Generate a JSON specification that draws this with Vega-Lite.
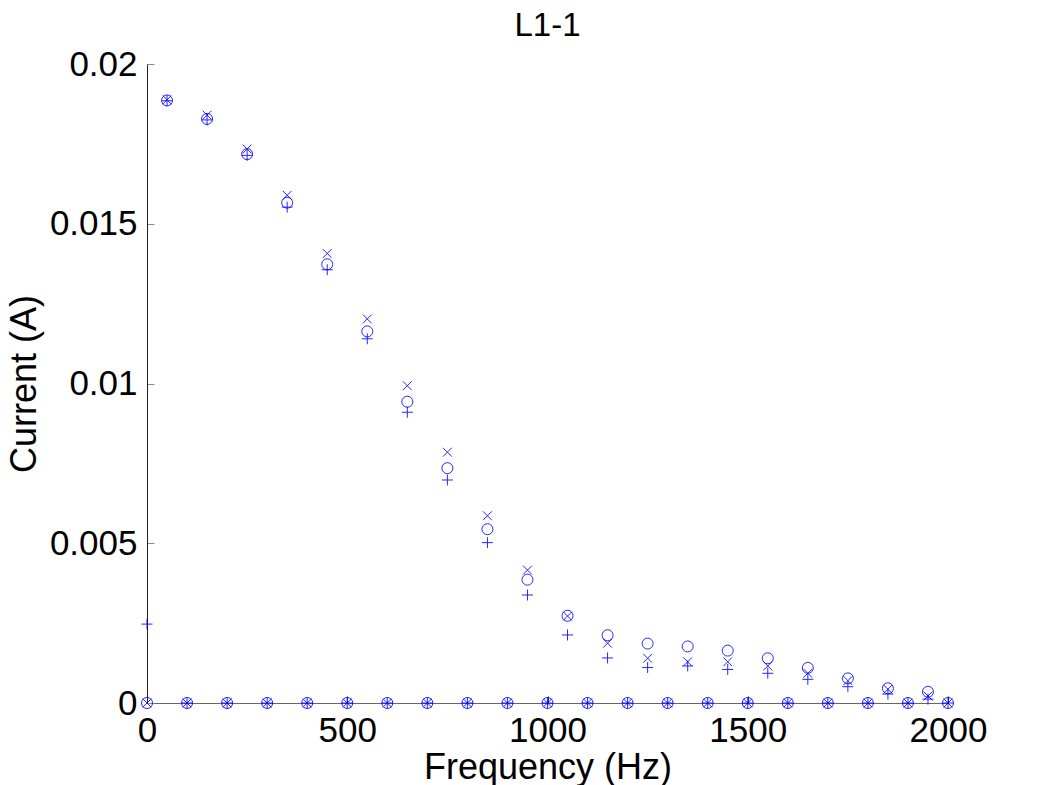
{
  "$schema": "https://vega.github.io/schema/vega-lite/v6.json",
  "width": 801,
  "height": 639,
  "autosize": {"type": "none"},
  "padding": {"left": 147, "top": 64, "right": 93, "bottom": 82},
  "background": "white",
  "title": {"text": "L1-1", "font": "Liberation Sans", "fontSize": 33, "fontWeight": "normal", "color": "black", "baseline": "alphabetic", "offset": -22},
  "config": {"view": {"stroke": null}},
  "data": {"values": [
    {"f":0,"s":"o","i":0},{"f":0,"s":"x","i":0},{"f":0,"s":"+","i":0.00247},
    {"f":100,"s":"o","i":0},{"f":100,"s":"x","i":0},{"f":100,"s":"+","i":0},
    {"f":200,"s":"o","i":0},{"f":200,"s":"x","i":0},{"f":200,"s":"+","i":0},
    {"f":300,"s":"o","i":0},{"f":300,"s":"x","i":0},{"f":300,"s":"+","i":0},
    {"f":400,"s":"o","i":0},{"f":400,"s":"x","i":0},{"f":400,"s":"+","i":0},
    {"f":500,"s":"o","i":0},{"f":500,"s":"x","i":0},{"f":500,"s":"+","i":0},
    {"f":600,"s":"o","i":0},{"f":600,"s":"x","i":0},{"f":600,"s":"+","i":0},
    {"f":700,"s":"o","i":0},{"f":700,"s":"x","i":0},{"f":700,"s":"+","i":0},
    {"f":800,"s":"o","i":0},{"f":800,"s":"x","i":0},{"f":800,"s":"+","i":0},
    {"f":900,"s":"o","i":0},{"f":900,"s":"x","i":0},{"f":900,"s":"+","i":0},
    {"f":1000,"s":"o","i":0},{"f":1000,"s":"x","i":0},{"f":1000,"s":"+","i":0},
    {"f":1100,"s":"o","i":0},{"f":1100,"s":"x","i":0},{"f":1100,"s":"+","i":0},
    {"f":1200,"s":"o","i":0},{"f":1200,"s":"x","i":0},{"f":1200,"s":"+","i":0},
    {"f":1300,"s":"o","i":0},{"f":1300,"s":"x","i":0},{"f":1300,"s":"+","i":0},
    {"f":1400,"s":"o","i":0},{"f":1400,"s":"x","i":0},{"f":1400,"s":"+","i":0},
    {"f":1500,"s":"o","i":0},{"f":1500,"s":"x","i":0},{"f":1500,"s":"+","i":0},
    {"f":1600,"s":"o","i":0},{"f":1600,"s":"x","i":0},{"f":1600,"s":"+","i":0},
    {"f":1700,"s":"o","i":0},{"f":1700,"s":"x","i":0},{"f":1700,"s":"+","i":0},
    {"f":1800,"s":"o","i":0},{"f":1800,"s":"x","i":0},{"f":1800,"s":"+","i":0},
    {"f":1900,"s":"o","i":0},{"f":1900,"s":"x","i":0},{"f":1900,"s":"+","i":0},
    {"f":2000,"s":"o","i":0},{"f":2000,"s":"x","i":0},{"f":2000,"s":"+","i":0},
    {"f":50,"s":"o","i":0.01886},{"f":50,"s":"x","i":0.01888},{"f":50,"s":"+","i":0.01885},
    {"f":150,"s":"o","i":0.01828},{"f":150,"s":"x","i":0.0184},{"f":150,"s":"+","i":0.01825},
    {"f":250,"s":"o","i":0.01718},{"f":250,"s":"x","i":0.01734},{"f":250,"s":"+","i":0.01714},
    {"f":350,"s":"o","i":0.01566},{"f":350,"s":"x","i":0.01589},{"f":350,"s":"+","i":0.01552},
    {"f":450,"s":"o","i":0.01373},{"f":450,"s":"x","i":0.01407},{"f":450,"s":"+","i":0.01356},
    {"f":550,"s":"o","i":0.01163},{"f":550,"s":"x","i":0.01202},{"f":550,"s":"+","i":0.0114},
    {"f":650,"s":"o","i":0.00943},{"f":650,"s":"x","i":0.00993},{"f":650,"s":"+","i":0.0091},
    {"f":750,"s":"o","i":0.00735},{"f":750,"s":"x","i":0.00785},{"f":750,"s":"+","i":0.00698},
    {"f":850,"s":"o","i":0.00544},{"f":850,"s":"x","i":0.00586},{"f":850,"s":"+","i":0.00502},
    {"f":950,"s":"o","i":0.00386},{"f":950,"s":"x","i":0.00416},{"f":950,"s":"+","i":0.00338},
    {"f":1050,"s":"o","i":0.00273},{"f":1050,"s":"x","i":0.00272},{"f":1050,"s":"+","i":0.00213},
    {"f":1150,"s":"o","i":0.00212},{"f":1150,"s":"x","i":0.00187},{"f":1150,"s":"+","i":0.00141},
    {"f":1250,"s":"o","i":0.00186},{"f":1250,"s":"x","i":0.0014},{"f":1250,"s":"+","i":0.00111},
    {"f":1350,"s":"o","i":0.00177},{"f":1350,"s":"x","i":0.00129},{"f":1350,"s":"+","i":0.00116},
    {"f":1450,"s":"o","i":0.00164},{"f":1450,"s":"x","i":0.00129},{"f":1450,"s":"+","i":0.00105},
    {"f":1550,"s":"o","i":0.0014},{"f":1550,"s":"x","i":0.00116},{"f":1550,"s":"+","i":0.00093},
    {"f":1650,"s":"o","i":0.0011},{"f":1650,"s":"x","i":0.00093},{"f":1650,"s":"+","i":0.00074},
    {"f":1750,"s":"o","i":0.00077},{"f":1750,"s":"x","i":0.0007},{"f":1750,"s":"+","i":0.00051},
    {"f":1850,"s":"o","i":0.00046},{"f":1850,"s":"x","i":0.00043},{"f":1850,"s":"+","i":0.00028},
    {"f":1950,"s":"o","i":0.00035},{"f":1950,"s":"x","i":0.00022},{"f":1950,"s":"+","i":0.00012}
  ]},
  "mark": {"type": "point", "filled": false, "stroke": "#0000ff", "strokeWidth": 1, "opacity": 0.85, "size": 121, "clip": false},
  "encoding": {
    "x": {"field": "f", "type": "quantitative",
      "scale": {"domain": [0, 2000], "nice": false, "zero": false},
      "axis": {"title": "Frequency (Hz)", "values": [0, 500, 1000, 1500, 2000], "format": "d", "grid": false, "labelFlush": false,
        "tickSize": -7, "tickColor": "#333", "domainColor": "#666", "labelPadding": 17,
        "labelFont": "Liberation Sans", "labelFontSize": 35, "labelColor": "black",
        "titleFont": "Liberation Sans", "titleFontSize": 36, "titleFontWeight": "normal", "titleColor": "black", "titlePadding": 2}},
    "y": {"field": "i", "type": "quantitative",
      "scale": {"domain": [0, 0.02], "nice": false},
      "axis": {"title": "Current (A)", "values": [0, 0.005, 0.01, 0.015, 0.02], "format": "~g", "grid": false, "labelFlush": false,
        "tickSize": -7, "tickColor": "#888", "domainColor": "#222", "labelPadding": 17,
        "labelFont": "Liberation Sans", "labelFontSize": 35, "labelColor": "black",
        "titleFont": "Liberation Sans", "titleFontSize": 36, "titleFontWeight": "normal", "titleColor": "black", "titlePadding": 6}},
    "shape": {"field": "s", "type": "nominal", "legend": null,
      "scale": {"domain": ["o", "x", "+"], "range": ["circle", "M-0.8,-0.8L0.8,0.8M-0.8,0.8L0.8,-0.8", "M-1,0L1,0M0,-1L0,1"]}}
  }
}
